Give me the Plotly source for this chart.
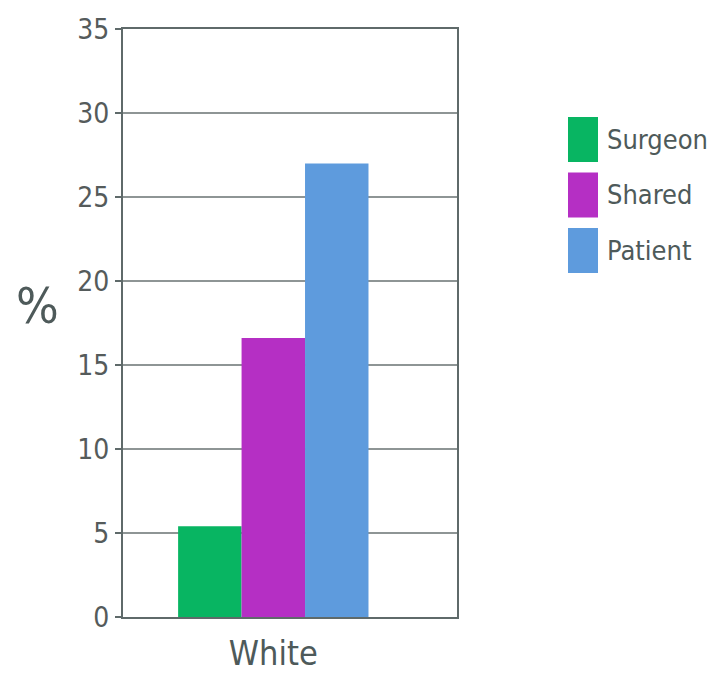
import plotly.graph_objects as go

categories = ["White"]
series_names = ["Surgeon", "Shared", "Patient"]
surgeon = [5.4]
shared = [16.6]
patient = [27.0]
series_values = [surgeon, shared, patient]
colors = ["#08B562", "#B52FC4", "#5E9BDD"]
y_ticks = [0, 5, 10, 15, 20, 25, 30, 35]

TICK_FONT = "DejaVu Sans Condensed, Liberation Sans Narrow, sans-serif"
LEG_FONT = "DejaVu Sans Condensed, Liberation Sans Narrow, sans-serif"
TXT = "#4E5A5A"
LINE = "#5F6A6A"

fig = go.Figure()
for name, vals, col in zip(series_names, series_values, colors):
    fig.add_trace(go.Bar(x=categories, y=vals, name=name, marker_color=col,
                         marker_line_width=0, showlegend=False))

# custom legend with large swatches
for i, (name, col) in enumerate(zip(series_names, colors)):
    top = 1 - (117 - 29 + i * 55.5) / 588
    fig.add_shape(type="rect", xref="paper", yref="paper",
                  x0=(568 - 123) / 334, x1=(598 - 123) / 334,
                  y0=top - 45 / 588, y1=top,
                  fillcolor=col, line_width=0)
    fig.add_annotation(text=name, xref="paper", yref="paper",
                       x=(605 - 123) / 334, y=top - 22 / 588,
                       xanchor="left", yanchor="middle", showarrow=False,
                       font=dict(family=LEG_FONT, size=27, color=TXT))

fig.add_annotation(text="%", xref="paper", yref="paper",
                   x=(37 - 123) / 334, y=1 - (306 - 29) / 588,
                   xanchor="center", yanchor="middle", showarrow=False,
                   font=dict(family=TICK_FONT, size=50, color=TXT))

fig.update_layout(
    width=714, height=675,
    margin=dict(l=123, r=257, t=29, b=58, autoexpand=False),
    paper_bgcolor="white", plot_bgcolor="white",
    barmode="group", bargap=0.43, bargroupgap=0,
    showlegend=False,
)
fig.update_xaxes(
    range=[-0.45, 0.55], showline=True, mirror=True, linecolor=LINE, linewidth=2,
    showgrid=False, ticks="", ticklabelstandoff=5, automargin=False,
    tickfont=dict(family=TICK_FONT, size=34, color=TXT),
)
fig.update_yaxes(
    range=[0, 35], tickvals=y_ticks, showline=True, mirror=True, linecolor=LINE,
    linewidth=2, showgrid=True, gridcolor="#8E9595", gridwidth=1.5,
    ticks="outside", ticklen=6, tickcolor=LINE, tickwidth=1.5, automargin=False,
    tickfont=dict(family=TICK_FONT, size=28, color="#555B5B"),
    zeroline=False,
)

fig.write_html("out.html")
